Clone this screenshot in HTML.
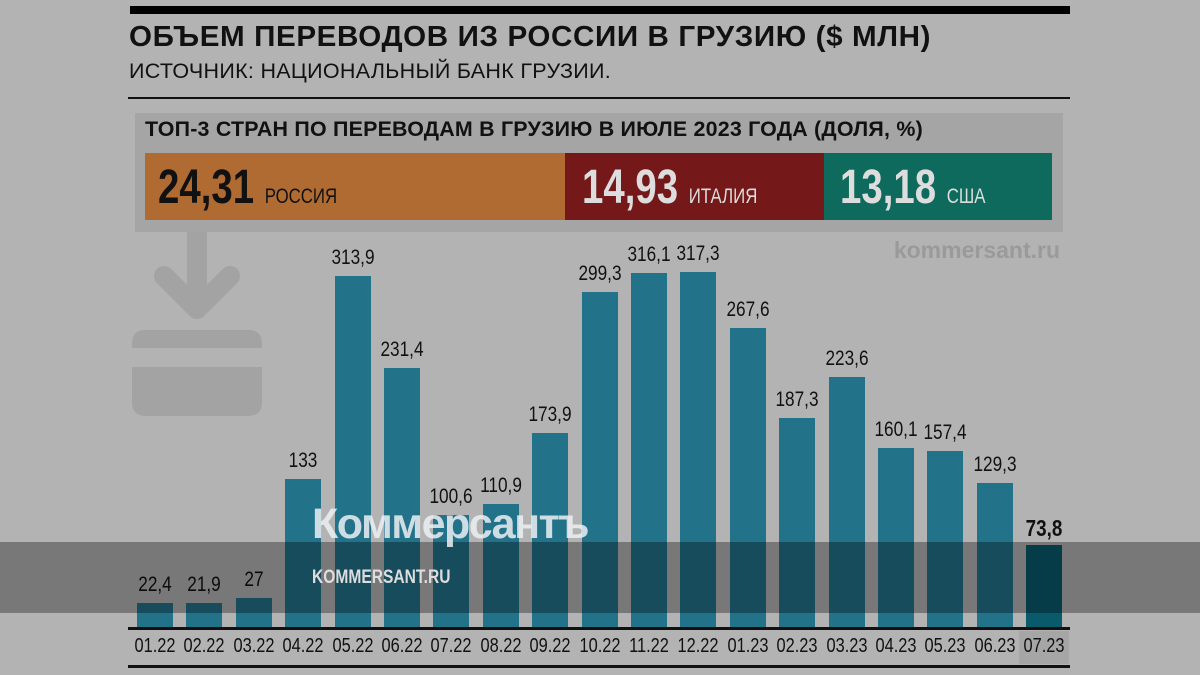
<!DOCTYPE html>
<html><head><meta charset="utf-8"><style>
body{margin:0;width:1200px;height:675px;background:#b3b3b3;position:relative;overflow:hidden;font-family:"Liberation Sans",sans-serif;color:#111}
.a{position:absolute}
.sq{display:inline-block;transform:scaleX(0.8);transform-origin:left center}
.bar{position:absolute;width:36px;background:#22728a}
.v{position:absolute;width:80px;text-align:center;font-size:21px;transform:scaleX(0.82)}
.l{position:absolute;width:60px;text-align:center;font-size:20px;top:635px;transform:scaleX(0.82)}
</style></head><body>
<div class="a" style="left:130px;top:6px;width:940px;height:8px;background:#000"></div>
<div class="a" style="left:129px;top:21px;font-size:29px;font-weight:bold;letter-spacing:0.6px;transform:scaleX(1.02);transform-origin:left">ОБЪЕМ ПЕРЕВОДОВ ИЗ РОССИИ В ГРУЗИЮ ($ МЛН)</div>
<div class="a" style="left:129px;top:59px;font-size:21.5px;letter-spacing:0.3px">ИСТОЧНИК: НАЦИОНАЛЬНЫЙ БАНК ГРУЗИИ.</div>
<div class="a" style="left:128px;top:97px;width:942px;height:2px;background:#111"></div>
<div class="a" style="left:135px;top:113px;width:928px;height:119px;background:#a5a5a5"></div>
<div class="a" style="left:145px;top:118px;font-size:21px;font-weight:bold;letter-spacing:0.2px;transform:scaleX(1.02);transform-origin:left">ТОП-3 СТРАН ПО ПЕРЕВОДАМ В ГРУЗИЮ В ИЮЛЕ 2023 ГОДА (ДОЛЯ, %)</div>
<div class="a" style="left:145px;top:153px;width:420px;height:67px;background:#b06b32"></div>
<div class="a" style="left:565px;top:153px;width:259px;height:67px;background:#741819"></div>
<div class="a" style="left:824px;top:153px;width:228px;height:67px;background:#0d6a5c"></div>
<div class="a sq" style="left:158px;top:160px;font-size:48px;font-weight:bold;color:#111">24,31 <span style="font-size:21px;font-weight:normal">РОССИЯ</span></div>
<div class="a sq" style="left:582px;top:160px;font-size:48px;font-weight:bold;color:#ddd">14,93 <span style="font-size:21px;font-weight:normal">ИТАЛИЯ</span></div>
<div class="a sq" style="left:840px;top:160px;font-size:48px;font-weight:bold;color:#ddd">13,18 <span style="font-size:21px;font-weight:normal">США</span></div>
<div class="a" style="right:140px;top:237px;font-size:23px;font-weight:bold;color:#9a9a9a">kommersant.ru</div>
<svg class="a" style="left:0;top:0" width="1200" height="675">
<rect x="187" y="232" width="20" height="80" fill="#a3a3a3"/>
<polyline points="164,276 197,309 230,276" fill="none" stroke="#a3a3a3" stroke-width="20" stroke-linecap="round" stroke-linejoin="round"/>
<path d="M145,330 H248 Q262,330 262,344 V348 H132 V344 Q132,330 145,330Z" fill="#a3a3a3"/>
<path d="M132,367 H262 V402 Q262,416 248,416 H146 Q132,416 132,402Z" fill="#a3a3a3"/>
</svg>
<div class="a" style="left:1019px;top:631px;width:50px;height:33px;background:#a6a6a6"></div>
<div id="c"></div>
<div class="a" style="left:128px;top:627px;width:942px;height:3px;background:#111"></div>
<div class="a" style="left:128px;top:665px;width:942px;height:3px;background:#111"></div>
<div class="a" style="left:0;top:542px;width:1200px;height:71px;background:rgba(0,0,0,0.33)"></div>
<div class="a" style="left:312px;top:500px;font-size:43px;font-weight:bold;color:rgba(235,240,242,0.85);letter-spacing:-1.5px">Коммерсантъ</div>
<div class="a" style="left:312px;top:567px;font-size:19px;font-weight:bold;color:#ddd;transform:scaleX(0.82);transform-origin:left">KOMMERSANT.RU</div>
<script>
var d=[22.4,21.9,27,133,313.9,231.4,100.6,110.9,173.9,299.3,316.1,317.3,267.6,187.3,223.6,160.1,157.4,129.3,73.8];
var m=["01.22","02.22","03.22","04.22","05.22","06.22","07.22","08.22","09.22","10.22","11.22","12.22","01.23","02.23","03.23","04.23","05.23","06.23","07.23"];
var h="";
for(var i=0;i<19;i++){var x=137+i*49.4,hh=d[i]*1.122,t=628-hh;
var last=i==18;
h+='<div class="bar" style="left:'+x+'px;top:'+t+'px;height:'+hh+'px;'+(last?'background:#095a6a':'')+'"></div>';
h+='<div class="v" style="left:'+(x-22)+'px;top:'+(t-30)+'px;'+(last?'font-weight:bold;font-size:23px;':'')+'">'+String(d[i]).replace('.',',')+'</div>';
h+='<div class="l" style="left:'+(x-12)+'px">'+m[i]+'</div>';}
document.getElementById('c').innerHTML=h;
</script>
</body></html>
